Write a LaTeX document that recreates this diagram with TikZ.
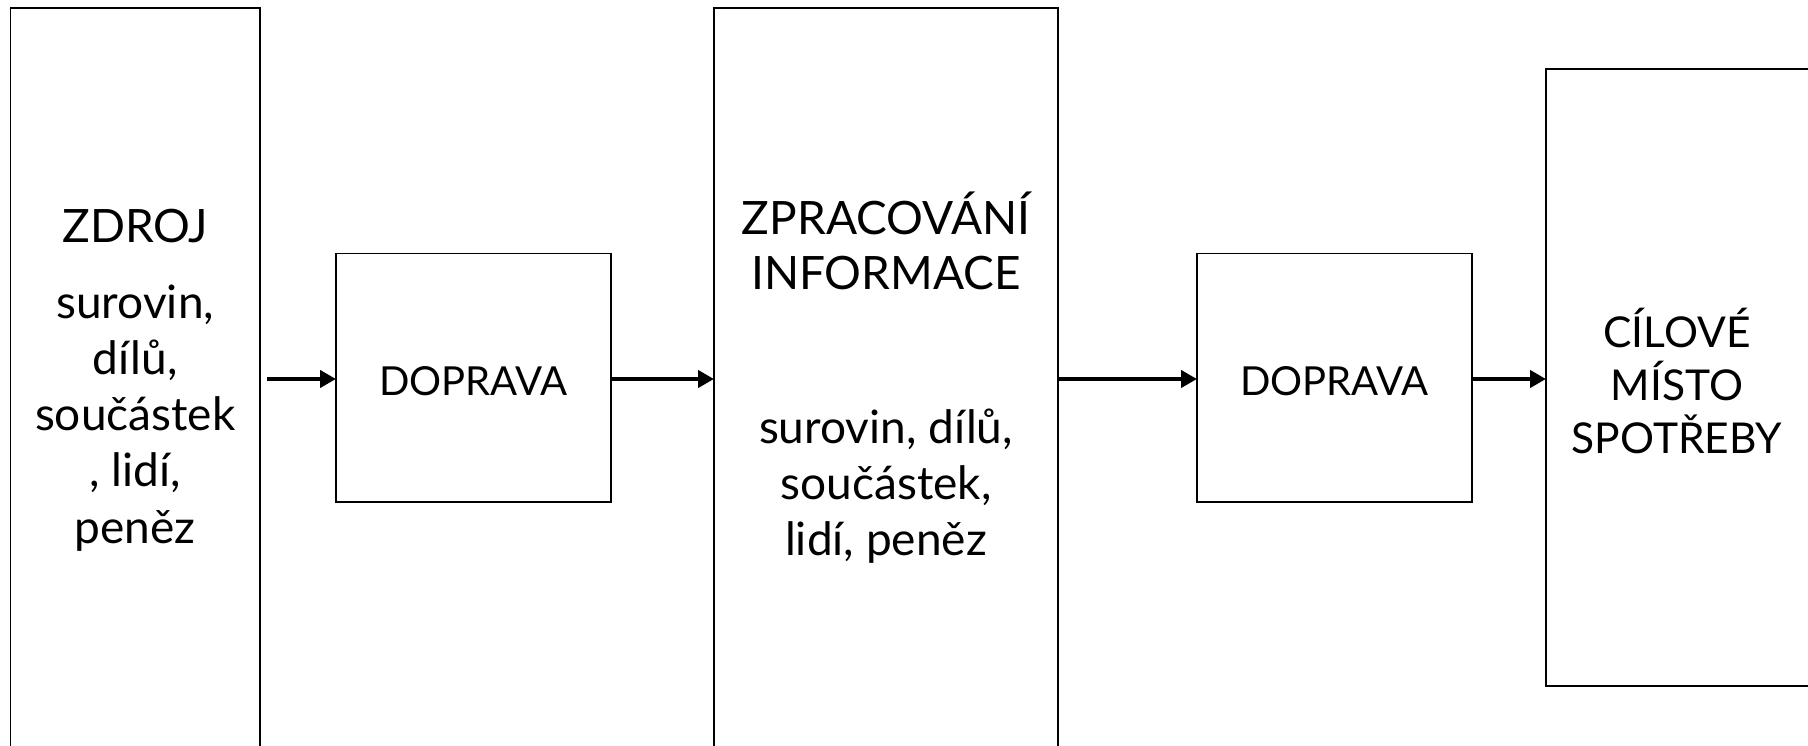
\documentclass[tikz,border=0pt]{standalone}
\usepackage{fontspec}
\setmainfont{Lato}
\usetikzlibrary{arrows.meta}
\tikzset{
  blk/.style={draw=black, line width=1.8pt, rectangle, inner sep=0pt, outer sep=0pt},
  txt/.style={inner sep=0pt, outer sep=0pt, anchor=base, font=\fontsize{46}{54}\selectfont},
  desttxt/.style={txt, font=\fontsize{42.5}{50}\selectfont},
  smalltxt/.style={txt, font=\fontsize{40}{48}\selectfont},
  flow/.style={line width=4.3pt, -{Triangle[length=16pt,width=17pt]}},
}
\begin{document}
\begin{tikzpicture}[x=1pt, y=-1pt]
\useasboundingbox (0,0) rectangle (1808,746);
% boxes
\node[blk, minimum width=249.5pt, minimum height=752pt] (src) at (135.25,383.75) {};
\node[blk, minimum width=275pt, minimum height=248pt] (dop1) at (473.5,377.6) {};
\node[blk, minimum width=344pt, minimum height=752pt] (proc) at (886,383.75) {};
\node[blk, minimum width=275pt, minimum height=248pt] (dop2) at (1334.5,377.6) {};
\node[blk, minimum width=266pt, minimum height=617pt] (dest) at (1679,377.5) {};
% texts
\node[txt] (s0) at (135.25,243) {ZDROJ};
\node[txt] (s1) at (135.25,318) {surovin,};
\node[txt] (s2) at (135.25,374.3) {dílů,};
\node[txt] (s3) at (135.25,430.5) {součástek};
\node[txt] (s4) at (135.25,486.8) {, lidí,};
\node[txt] (s5) at (135.25,543) {peněz};
\node[smalltxt] (d1) at (473.5,395) {DOPRAVA};
\node[txt] (p0) at (886,235) {ZPRACOVÁNÍ};
\node[txt] (p1) at (886,290) {INFORMACE};
\node[txt] (p2) at (886,443) {surovin, dílů,};
\node[txt] (p3) at (886,499) {součástek,};
\node[txt] (p4) at (886,555) {lidí, peněz};
\node[smalltxt] (d2) at (1334.5,395) {DOPRAVA};
\node[desttxt] (c0) at (1677,347) {CÍLOVÉ};
\node[desttxt] (c1) at (1677,400) {MÍSTO};
\node[desttxt] (c2) at (1677,453) {SPOTŘEBY};
% connectors
\coordinate (start) at (267,379);
\draw[flow] (start) -- (start -| dop1.west);
\draw[flow] (dop1.east |- start) -- (start -| proc.west);
\draw[flow] (proc.east |- start) -- (start -| dop2.west);
\draw[flow] (dop2.east |- start) -- (start -| dest.west);
\end{tikzpicture}
\end{document}
